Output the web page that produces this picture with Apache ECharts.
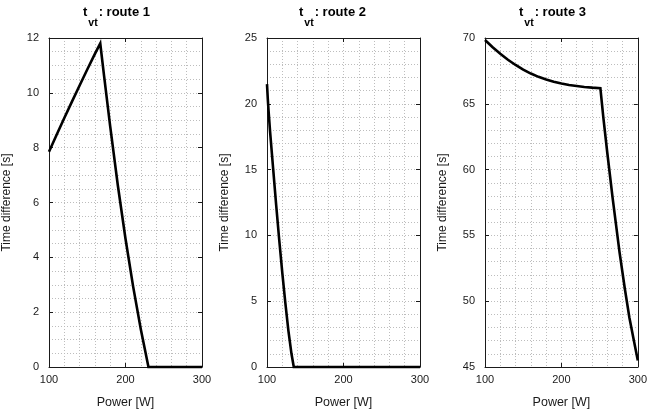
<!DOCTYPE html>
<html>
<head>
<meta charset="utf-8">
<script src="https://cdn.jsdelivr.net/npm/echarts@6/dist/echarts.min.js"></script>
<style>
html,body{margin:0;padding:0;background:#fff;}
#chart{width:650px;height:417px;}
</style>
</head>
<body>
<div id="chart"></div>
<script>
// ---- data ----
const routeNames = ['route 1', 'route 2', 'route 3'];
const xTicks = [100, 200, 300];
const yTicks1 = [0, 2, 4, 6, 8, 10, 12];
const yTicks2 = [0, 5, 10, 15, 20, 25];
const yTicks3 = [45, 50, 55, 60, 65, 70];

const power1 = [100, 110, 120, 130, 140, 150, 160, 167, 172, 180, 190, 200, 210, 220, 230, 300];
const time1  = [7.85, 8.47, 9.08, 9.68, 10.27, 10.85, 11.42, 11.8, 10.62, 8.78, 6.62, 4.68, 2.93, 1.38, 0, 0];

const power2 = [100, 101, 102, 104, 108, 112, 116, 120, 124, 128, 132, 135, 300];
const time2  = [21.5, 20.4, 19.5, 17.9, 15.1, 12.3, 9.65, 7.15, 4.85, 2.75, 1.0, 0, 0];

const power3 = [100, 110, 120, 130, 140, 150, 160, 170, 180, 190, 200, 210, 220, 230, 240, 251, 255, 260, 267, 276, 283, 289, 295, 300];
const time3  = [69.85, 69.3, 68.8, 68.35, 67.95, 67.6, 67.3, 67.05, 66.85, 66.68, 66.54, 66.43, 66.35, 66.28, 66.23, 66.19, 63.9, 61.3, 57.85, 53.75, 50.95, 48.75, 46.95, 45.5];

// ---- layout ----
const FONT = '"Liberation Sans", Arial, Helvetica, sans-serif';
const grids = [
  {left: 48, top: 38, width: 154, height: 329},
  {left: 267, top: 38, width: 153, height: 329},
  {left: 485, top: 38, width: 153, height: 329}
];
const titleLeft = [83, 299, 519];
const yTickSets = [yTicks1, yTicks2, yTicks3];
const yMinor = [4, 5, 5];
const series = [[power1, time1], [power2, time2], [power3, time3]];

const gridLine = {color: '#bdbdbd', type: [1, 2], width: 1};
const frame = {show: true, lineStyle: {color: '#1a1a1a', width: 1}};
const tickIn = {show: true, inside: true, length: 4, lineStyle: {color: '#1a1a1a', width: 1}};
const SUB = 11;

const xAxes = [], yAxes = [], ser = [], titles = [];
for (let i = 0; i < 3; i++) {
  const yt = yTickSets[i];
  const ymin = yt[0], ymax = yt[yt.length - 1], yint = yt[1] - yt[0];
  const xmin = xTicks[0], xmax = xTicks[xTicks.length - 1], xint = xTicks[1] - xTicks[0];
  xAxes.push({
    type: 'value', gridIndex: i, position: 'bottom', min: xmin, max: xmax, interval: xint,
    axisLine: Object.assign({onZero: false}, frame), axisTick: tickIn,
    axisLabel: {color: '#1a1a1a', fontSize: 11, fontFamily: FONT, margin: 7},
    splitLine: {show: true, lineStyle: gridLine},
    minorTick: {show: false, splitNumber: 5},
    minorSplitLine: {show: true, lineStyle: gridLine},
    name: 'Power [W]', nameLocation: 'middle', nameGap: 29,
    nameTextStyle: {color: '#1a1a1a', fontSize: 12.5, fontFamily: FONT}
  });
  yAxes.push({
    type: 'value', gridIndex: i, position: 'left', min: ymin, max: ymax, interval: yint,
    axisLine: Object.assign({onZero: false}, frame), axisTick: tickIn,
    axisLabel: {color: '#1a1a1a', fontSize: 11, fontFamily: FONT, margin: 10},
    splitLine: {show: true, lineStyle: gridLine},
    minorTick: {show: false, splitNumber: yMinor[i]},
    minorSplitLine: {show: true, lineStyle: gridLine},
    name: 'Time difference [s]', nameLocation: 'middle', nameGap: 36,
    nameTextStyle: {color: '#1a1a1a', fontSize: 12, fontFamily: FONT}
  });
  titles.push({
    left: titleLeft[i], top: 11, padding: 0,
    text: '{t|t}{s|vt}{r|: route ' + (i + 1) + '}',
    textStyle: {
      fontFamily: FONT,
      rich: {
        t: {fontSize: 13, fontWeight: 'bold', color: '#000', fontFamily: FONT, lineHeight: 14, padding: [0, 0, SUB, 0]},
        s: {fontSize: 10.5, fontWeight: 'bold', color: '#000', fontFamily: FONT, lineHeight: 14, padding: [SUB, 0, 0, 1]},
        r: {fontSize: 13, fontWeight: 'bold', color: '#000', fontFamily: FONT, lineHeight: 14, padding: [0, 0, SUB, 1]}
      }
    }
  });
}
for (let i = 0; i < 3; i++) {
  const yt = yTickSets[i];
  xAxes.push({
    type: 'value', gridIndex: i, position: 'top', min: xTicks[0], max: xTicks[xTicks.length - 1], interval: xTicks[1] - xTicks[0],
    axisLine: Object.assign({onZero: false}, frame), axisTick: tickIn,
    axisLabel: {show: false}, splitLine: {show: false}
  });
  yAxes.push({
    type: 'value', gridIndex: i, position: 'right', min: yt[0], max: yt[yt.length - 1], interval: yt[1] - yt[0],
    axisLine: Object.assign({onZero: false}, frame), axisTick: tickIn,
    axisLabel: {show: false}, splitLine: {show: false}
  });
}
for (let i = 0; i < 3; i++) {
  const [px, py] = series[i];
  ser.push({
    name: routeNames[i], type: 'line', xAxisIndex: i, yAxisIndex: i,
    data: px.map((p, k) => [p, py[k]]),
    showSymbol: false, clip: false, smooth: false,
    lineStyle: {color: '#000', width: 2.6, join: 'miter'}, z: 5
  });
}

const chart = echarts.init(document.getElementById('chart'), null, {renderer: 'canvas'});
chart.setOption({
  animation: false,
  backgroundColor: '#fff',
  title: titles,
  grid: grids,
  xAxis: xAxes,
  yAxis: yAxes,
  series: ser
});
</script>
</body>
</html>
